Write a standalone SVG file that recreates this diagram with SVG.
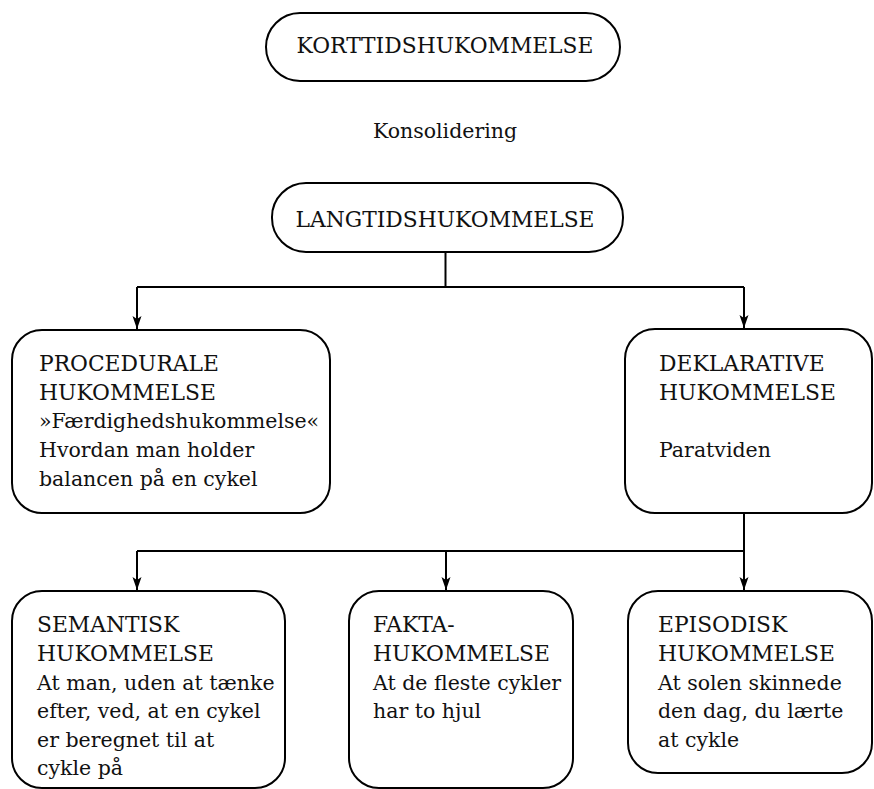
<svg xmlns="http://www.w3.org/2000/svg" width="874" height="789" viewBox="0 0 874 789">
<style>
.box{fill:#fff;stroke:#000;stroke-width:2}
.t{font-family:"DejaVu Serif","Liberation Serif",serif;font-size:20.5px;fill:#111}
.u{font-size:21.8px}
.c{text-anchor:middle}
.ln{fill:none;stroke:#000;stroke-width:2}
</style>
<defs>
<marker id="ah" markerUnits="userSpaceOnUse" markerWidth="14" markerHeight="10" refX="13" refY="5" orient="auto">
<path d="M0,0.5 L13,5 L0,9.5 L3,5 z" fill="#000"/>
</marker>
</defs>
<rect width="874" height="789" fill="#fff"/>
<g id="connectors">
<path class="ln" d="M445.5,252 V287"/>
<path class="ln" d="M137,287 H744"/>
<path class="ln" d="M137,287 V329" marker-end="url(#ah)"/>
<path class="ln" d="M744,287 V328" marker-end="url(#ah)"/>
<path class="ln" d="M744,513 V551"/>
<path class="ln" d="M137,551 H744"/>
<path class="ln" d="M137,551 V590" marker-end="url(#ah)"/>
<path class="ln" d="M446,551 V590" marker-end="url(#ah)"/>
<path class="ln" d="M744,551 V590" marker-end="url(#ah)"/>
</g>
<g id="korttid">
<rect class="box" x="266" y="13" width="354" height="68" rx="34"/>
<text class="t u c" x="445" y="53">KORTTIDSHUKOMMELSE</text>
</g>
<g id="konsolidering">
<text class="t c" x="445" y="138">Konsolidering</text>
</g>
<g id="langtid">
<rect class="box" x="272" y="183" width="351" height="69" rx="34"/>
<text class="t u c" x="445" y="227">LANGTIDSHUKOMMELSE</text>
</g>
<g id="procedurale">
<rect class="box" x="12" y="330" width="318" height="183" rx="30"/>
<text class="t u" x="39" y="371">PROCEDURALE</text>
<text class="t u" x="39" y="400">HUKOMMELSE</text>
<text class="t" x="39" y="428">»Færdighedshukommelse«</text>
<text class="t" x="39" y="457">Hvordan man holder</text>
<text class="t" x="39" y="486">balancen på en cykel</text>
</g>
<g id="deklarative">
<rect class="box" x="625" y="329" width="247" height="184" rx="30"/>
<text class="t u" x="659" y="371">DEKLARATIVE</text>
<text class="t u" x="659" y="400">HUKOMMELSE</text>
<text class="t" x="659" y="457">Paratviden</text>
</g>
<g id="semantisk">
<rect class="box" x="12" y="591" width="273" height="197" rx="30"/>
<text class="t u" x="37" y="632">SEMANTISK</text>
<text class="t u" x="37" y="661">HUKOMMELSE</text>
<text class="t" x="37" y="690">At man, uden at tænke</text>
<text class="t" x="37" y="718">efter, ved, at en cykel</text>
<text class="t" x="37" y="747">er beregnet til at</text>
<text class="t" x="37" y="775">cykle på</text>
</g>
<g id="fakta">
<rect class="box" x="349" y="591" width="224" height="197" rx="30"/>
<text class="t u" x="373" y="632">FAKTA-</text>
<text class="t u" x="373" y="661">HUKOMMELSE</text>
<text class="t" x="373" y="690">At de fleste cykler</text>
<text class="t" x="373" y="718">har to hjul</text>
</g>
<g id="episodisk">
<rect class="box" x="628" y="591" width="244" height="182" rx="30"/>
<text class="t u" x="658" y="632">EPISODISK</text>
<text class="t u" x="658" y="661">HUKOMMELSE</text>
<text class="t" x="658" y="690">At solen skinnede</text>
<text class="t" x="658" y="718">den dag, du lærte</text>
<text class="t" x="658" y="747">at cykle</text>
</g>
</svg>
